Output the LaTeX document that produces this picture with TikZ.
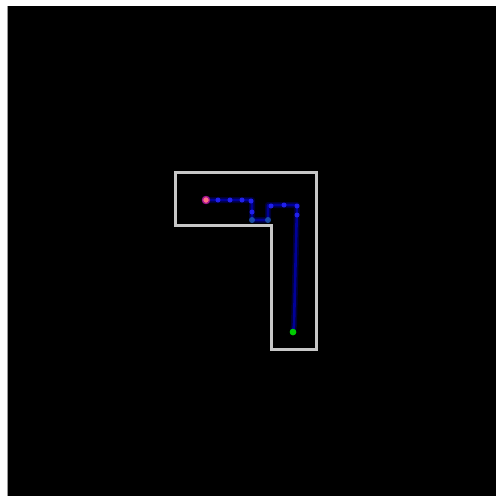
\documentclass[tikz,border=0pt]{standalone}
\begin{document}
\begin{tikzpicture}[x=1pt,y=-1pt,
  wall/.style={draw=white!78!black,line width=3pt,line join=miter},
  glow/.style={draw=blue!70!black,line width=6pt,opacity=0.3,line join=round,line cap=round},
  trail/.style={draw=blue!60!black,line width=2.6pt,line join=round,line cap=round},
  dotmark/.style={circle,fill=blue!85!white,inner sep=0pt,minimum size=5pt,opacity=0.85},
  hot/.style={circle,fill=cyan!35!blue,inner sep=0pt,minimum size=6pt,opacity=0.8},
  startpt/.style={circle,fill=orange!60!magenta!80!white,draw=magenta!60!blue,line width=1.2pt,inner sep=0pt,minimum size=7pt},
  goalpt/.style={circle,fill=green!80!black,inner sep=0pt,minimum size=6.5pt}]
\useasboundingbox (0,0) rectangle (496,496);
\fill[white] (0,0) rectangle (496,496);
\fill[black] (8,6) rectangle (496,496);
\draw[white!60!black,line width=0.6pt] (7.5,6) -- (7.5,496);
% room outline
\draw[wall] (175,172) -- (316,172) -- (316,349) -- (271,349) -- (271,225) -- (175,225) -- cycle;
% path
\coordinate (p1) at (252,200);
\coordinate (p2) at (252,220);
\coordinate (p3) at (268,220);
\coordinate (p4) at (268,205);
\coordinate (p5) at (297,205);
\coordinate (p6) at (294,325);
\node[startpt] (start) at (206,200) {};
\node[goalpt] (goal) at (293,332) {};
\draw[glow] (start.center) -- (p1) -- (p2) -- (p3) -- (p4) -- (p5) -- (p6) -- (goal.center);
\draw[trail] (start.center) -- (p1) -- (p2) -- (p3) -- (p4) -- (p5) -- (p6) -- (goal.center);
\foreach \x/\y [count=\i] in {218/200,230/200,242/200,251/201,252/212,271/206,284/205,297/206,297/215}
  \node[dotmark] (m\i) at (\x,\y) {};
\node[hot] (h1) at (p2) {};
\node[hot] (h2) at (p3) {};
\node[startpt] (start2) at (start) {};
\node[goalpt] (goal2) at (goal) {};
\end{tikzpicture}
\end{document}
